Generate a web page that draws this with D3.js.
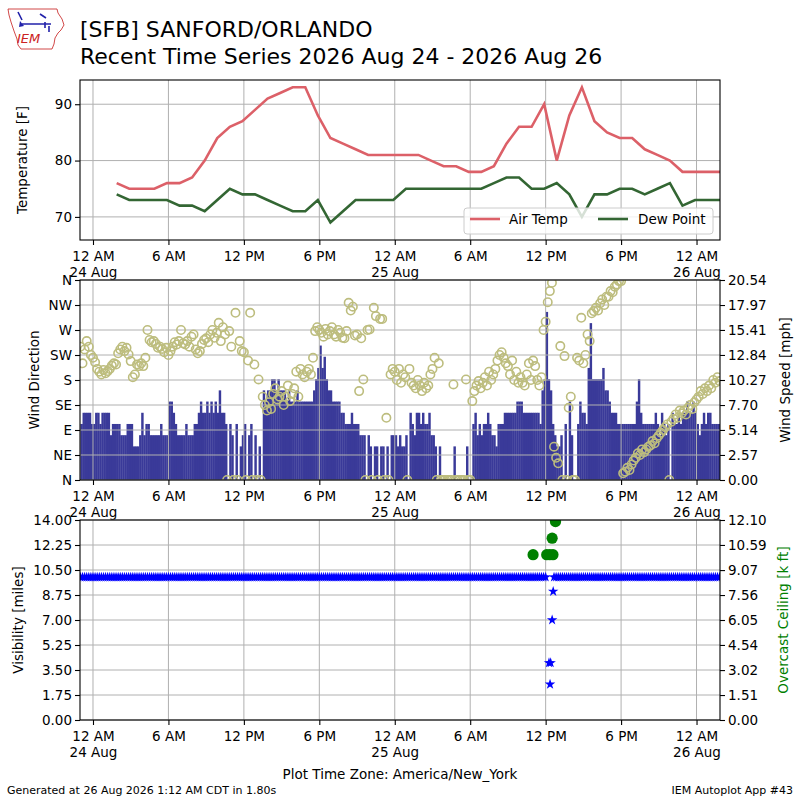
<!DOCTYPE html>
<html>
<head>
<meta charset="utf-8">
<script src="https://cdn.jsdelivr.net/npm/d3@7"></script>
<style>
  body { margin: 0; background: #ffffff; }
  text { font-family: "DejaVu Sans", sans-serif; }
</style>
</head>
<body>
<script>
// ---- data ----

// hourly METAR temperatures (F), first ob 1:53 AM Aug 24, one per hour
var tempStart = "2026-08-24 01:53";
var airTemp = [
  76, 75, 75, 75, 76, 76, 77, 80, 84, 86, 87, 89, 91, 92, 93, 93, 88, 84, 83, 82, 81, 81, 81,
  81, 81, 80, 79, 79, 78, 78, 79, 83, 86, 86, 90, 80, 88, 93, 87, 85, 84, 84, 82, 81, 80, 78, 78, 78, 78
];
var dewPoint = [
  74, 73, 73, 73, 73, 72, 72, 71, 73, 75, 74, 74, 73, 72, 71, 71, 73, 69, 71, 73, 73, 73, 73,
  75, 75, 75, 75, 75, 75, 75, 76, 77, 77, 75, 75, 76, 74, 70, 74, 74, 75, 75, 74, 75, 76, 72, 73, 73, 73
];

// 10 minute wind obs, first at 11:00 PM Aug 23 (speed in knots, direction in degrees, calm = 0)
var windStart = "2026-08-23 23:00";
var windSpeedKt = [
  5, 6, 6, 6, 6, 5,     // 23
  5, 6, 6, 5, 6, 6,     // 00 Aug 24
  6, 6, 4, 5, 5, 5,
  5, 4, 4, 4, 5, 5,
  5, 3, 3, 3, 4, 6,
  4, 5, 5, 4, 4, 4,
  4, 4, 5, 4, 4, 4,
  7, 7, 6, 5, 4, 4,     // 06
  4, 4, 5, 4, 4, 4,
  5, 5, 6, 7, 6, 6,
  7, 6, 7, 6, 7, 6,
  8, 6, 6, 5, 0, 5,
  4, 0, 5, 0, 3, 4,
  5, 0, 4, 5, 0, 4,     // 12
  0, 3, 0, 8, 7, 8,
  8, 9, 9, 8, 9, 8,
  8, 8, 7, 8, 7, 7,
  7, 8, 7, 7, 7, 7,
  7, 7, 7, 8, 9, 10,
  12, 10, 11, 9, 8, 8,  // 18
  7, 7, 7, 7, 6, 6,
  5, 5, 5, 6, 5, 5,
  5, 4, 4, 4, 0, 4,
  3, 0, 3, 3, 0, 3,
  3, 0, 3, 0, 4, 4,
  4, 3, 4, 3, 3, 4,     // 00 Aug 25
  0, 6, 5, 4, 6, 6,
  5, 6, 5, 5, 6, 4,
  4, 3, 0, 3, 0, 0,
  0, 0, 0, 0, 3, 0,
  0, 0, 0, 0, 3, 0,
  0, 5, 6, 4, 5, 4,     // 06
  5, 5, 6, 5, 4, 4,
  3, 5, 5, 5, 6, 6,
  6, 6, 6, 6, 7, 7,
  7, 6, 6, 6, 6, 6,
  6, 6, 6, 5, 8, 9,
  15, 9, 8, 5, 4, 3,    // 12
  3, 4, 0, 5, 0, 7,
  4, 0, 0, 5, 7, 6,
  6, 5, 10, 14, 9, 9,
  9, 9, 9, 10, 8, 8,
  7, 6, 6, 6, 5, 5,
  5, 5, 5, 5, 5, 5,     // 18
  5, 7, 9, 6, 5, 5,
  5, 5, 5, 5, 6, 5,
  4, 6, 5, 4, 5, 0,
  6, 5, 5, 6, 5, 6,
  6, 7, 6, 6, 7, 6,
  5, 4, 5, 6, 5, 6,     // 00 Aug 26
  6, 5, 5, 5, 5, 5
];
var windDirDeg = [
  240, 210, 235, 250, 240, 225,   // 23
  220, 212, 200, 195, 190, 198,   // 00 Aug 24
  192, 196, 200, 206, 210, 208,
  228, 235, 240, 232, 238, 226,
  214, 185, 190, 208, 205, 210,
  205, 220, 270, 252, 248, 250,
  245, 238, 240, 236, 230, 238,
  225, 232, 240, 248, 244, 250,   // 06
  270, 246, 244, 250, 240, 258,
  262, 235, 228, 232, 245, 252,
  255, 248, 262, 270, 256, 265,
  283, 250, 275, 262, 0, 268,
  240, 0, 301, 0, 250, 232,
  230, 0, 215, 301, 0, 208,       // 12
  0, 181, 0, 150, 135, 125,
  140, 128, 155, 165, 145, 150,
  160, 135, 150, 170, 142, 155,
  165, 195, 150, 200, 190, 185,
  195, 200, 190, 220, 268, 275,
  270, 265, 258, 272, 262, 268,   // 18
  275, 262, 258, 270, 265, 256,
  255, 268, 319, 305, 312, 260,
  262, 160, 255, 181, 0, 270,
  271, 0, 310, 295, 0, 290,
  290, 0, 112, 0, 190, 200,
  195, 180, 200, 175, 190, 185,   // 00 Aug 25
  0, 200, 175, 170, 165, 180,
  170, 160, 175, 165, 170, 190,
  200, 220, 0, 210, 0, 0,
  0, 0, 0, 0, 172, 0,
  0, 0, 0, 0, 181, 0,
  0, 142, 160, 170, 178, 165,     // 06
  175, 185, 170, 195, 180, 190,
  200, 215, 225, 230, 220, 210,
  205, 190, 215, 180, 195, 175,
  185, 175, 170, 190, 210, 180,
  215, 205, 180, 170, 185, 270,
  285, 320, 340, 355, 60, 40,     // 12
  30, 241, 0, 223, 0, 130,
  150, 0, 0, 220, 215, 292,
  210, 225, 262, 250, 300, 304,
  310, 305, 318, 325, 315, 330,
  330, 340, 338, 348, 352, 358,
  358, 12, 15, 22, 18, 28,        // 18
  35, 40, 48, 45, 55, 50,
  55, 60, 62, 70, 66, 75,
  80, 85, 90, 95, 100, 0,
  105, 110, 118, 112, 125, 120,
  125, 118, 130, 135, 128, 140,
  145, 150, 160, 155, 165, 160,   // 00 Aug 26
  170, 165, 180, 175, 185, 178
];

// 10 minute visibility obs (miles), same times as the wind obs, four hours per row
var visMiles = [
  10, 10, 10, 10, 10, 10,  10, 10, 10, 10, 10, 10,  10, 10, 10, 10, 10, 10,  10, 10, 10, 10, 10, 10,   // 23-02
  10, 10, 10, 10, 10, 10,  10, 10, 10, 10, 10, 10,  10, 10, 10, 10, 10, 10,  10, 10, 10, 10, 10, 10,   // 03-06
  10, 10, 10, 10, 10, 10,  10, 10, 10, 10, 10, 10,  10, 10, 10, 10, 10, 10,  10, 10, 10, 10, 10, 10,   // 07-10
  10, 10, 10, 10, 10, 10,  10, 10, 10, 10, 10, 10,  10, 10, 10, 10, 10, 10,  10, 10, 10, 10, 10, 10,   // 11-14
  10, 10, 10, 10, 10, 10,  10, 10, 10, 10, 10, 10,  10, 10, 10, 10, 10, 10,  10, 10, 10, 10, 10, 10,   // 15-18
  10, 10, 10, 10, 10, 10,  10, 10, 10, 10, 10, 10,  10, 10, 10, 10, 10, 10,  10, 10, 10, 10, 10, 10,   // 19-22
  10, 10, 10, 10, 10, 10,  10, 10, 10, 10, 10, 10,  10, 10, 10, 10, 10, 10,  10, 10, 10, 10, 10, 10,   // 23-02
  10, 10, 10, 10, 10, 10,  10, 10, 10, 10, 10, 10,  10, 10, 10, 10, 10, 10,  10, 10, 10, 10, 10, 10,   // 03-06
  10, 10, 10, 10, 10, 10,  10, 10, 10, 10, 10, 10,  10, 10, 10, 10, 10, 10,  10, 10, 10, 10, 10, 10,   // 07-10
  10, 10, 10, 10, 10, 10,  10, null, null, null, 10, 10,  10, 10, 10, 10, 10, 10,  10, 10, 10, 10, 10, 10,   // 11-14
  10, 10, 10, 10, 10, 10,  10, 10, 10, 10, 10, 10,  10, 10, 10, 10, 10, 10,  10, 10, 10, 10, 10, 10,   // 15-18
  10, 10, 10, 10, 10, 10,  10, 10, 10, 10, 10, 10,  10, 10, 10, 10, 10, 10,  10, 10, 10, 10, 10, 10,   // 19-22
  10, 10, 10, 10, 10, 10,  10, 10, 10, 10, 10, 10,  10, 10, 10, 10, 10, 10                             // 23-01
];
// special obs during the storm around noon Aug 25
var visSpecialTimes = ["2026-08-25 12:16", "2026-08-25 12:24", "2026-08-25 12:21", "2026-08-25 12:31", "2026-08-25 12:36"];
var visSpecialMiles = [4, 4, 2.5, 7, 9];

// overcast ceiling reports (thousand feet)
var ceilingTimes = ["2026-08-25 11:00", "2026-08-25 12:05", "2026-08-25 12:20", "2026-08-25 12:35", "2026-08-25 12:31", "2026-08-25 12:47"];
var ceilingKft = [10.0, 10.0, 10.0, 10.0, 11.0, 12.0];

// axis ticks
var xTickTimes = ["2026-08-24 00:00", "2026-08-24 06:00", "2026-08-24 12:00", "2026-08-24 18:00",
  "2026-08-25 00:00", "2026-08-25 06:00", "2026-08-25 12:00", "2026-08-25 18:00", "2026-08-26 00:00"];
var xTickLabels = ["12 AM\n24 Aug", "6 AM", "12 PM", "6 PM", "12 AM\n25 Aug", "6 AM", "12 PM", "6 PM", "12 AM\n26 Aug"];
var tempTicks = [70, 80, 90];
var dirTicks = [0, 45, 90, 135, 180, 225, 270, 315, 360];
var dirTickLabels = ["N", "NE", "E", "SE", "S", "SW", "W", "NW", "N"];
var speedTicks = [0, 2.57, 5.14, 7.70, 10.27, 12.84, 15.41, 17.97, 20.54];
var visTicks = [0, 1.75, 3.50, 5.25, 7.00, 8.75, 10.50, 12.25, 14.00];
var ceilingTicks = [0, 1.51, 3.02, 4.54, 6.05, 7.56, 9.07, 10.59, 12.10];

// ---- layout ----
var svgWidth = 800;
var svgHeight = 800;
var plotLeft = 80;
var plotRight = 720;
var tempPanel = { top: 80, bottom: 240 };
var windPanel = { top: 280, bottom: 480 };
var visPanel = { top: 520, bottom: 720 };
var gridColor = "#b0b0b0";
var fontSize = 13.5;

var parseTime = d3.timeParse("%Y-%m-%d %H:%M");
var ktToMph = 1.15078;

var svg = d3.select("body")
  .append("svg")
  .attr("width", svgWidth)
  .attr("height", svgHeight);

svg.append("rect").attr("width", svgWidth).attr("height", svgHeight).attr("fill", "#ffffff");

// shared time scale
var x = d3.scaleTime()
  .domain([parseTime("2026-08-23 22:58"), parseTime("2026-08-26 01:52")])
  .range([plotLeft, plotRight]);

var tickDates = xTickTimes.map(parseTime);

// times for the obs arrays
var tempT0 = parseTime(tempStart);
var tempData = airTemp.map(function(v, i) {
  return { t: d3.timeHour.offset(tempT0, i), air: v, dew: dewPoint[i] };
});
var windT0 = parseTime(windStart);
var windData = windSpeedKt.map(function(v, i) {
  return { t: d3.timeMinute.offset(windT0, i * 10), spd: v, dir: windDirDeg[i], vis: visMiles[i] };
});

// clip path per panel
function addClip(id, panel) {
  svg.append("clipPath").attr("id", id)
    .append("rect")
    .attr("x", plotLeft).attr("y", panel.top)
    .attr("width", plotRight - plotLeft).attr("height", panel.bottom - panel.top);
}
addClip("clipTemp", tempPanel);
addClip("clipWind", windPanel);
addClip("clipVis", visPanel);

// vertical grid lines + bottom time axis for a panel
function drawVGrid(panel) {
  svg.append("g").selectAll("line")
    .data(tickDates)
    .enter()
    .append("line")
    .attr("x1", d => x(d)).attr("x2", d => x(d))
    .attr("y1", panel.top).attr("y2", panel.bottom)
    .attr("stroke", gridColor).attr("stroke-width", 1);
}

function drawHGrid(panel, scale, values) {
  svg.append("g").selectAll("line")
    .data(values)
    .enter()
    .append("line")
    .attr("x1", plotLeft).attr("x2", plotRight)
    .attr("y1", d => scale(d)).attr("y2", d => scale(d))
    .attr("stroke", gridColor).attr("stroke-width", 1);
}

function drawTimeAxis(panel) {
  var bottomAxis = d3.axisBottom(x)
    .tickValues(tickDates)
    .tickFormat((d, i) => xTickLabels[i])
    .tickSize(5)
    .tickPadding(6);
  var g = svg.append("g")
    .attr("transform", `translate(0, ${panel.bottom})`)
    .call(bottomAxis);
  styleAxis(g);
  // split two line labels
  g.selectAll(".tick text").each(function(d, i) {
    var lines = xTickLabels[i].split("\n");
    var t = d3.select(this).attr("dy", null).text(null);
    lines.forEach(function(line, j) {
      t.append("tspan").attr("x", 0).attr("dy", j === 0 ? "0.71em" : "1.18em").text(line);
    });
  });
}

function styleAxis(g) {
  g.select(".domain").remove();
  g.attr("font-size", fontSize).attr("font-family", "DejaVu Sans, sans-serif");
  g.selectAll(".tick line").attr("stroke", "#000").attr("stroke-width", 1.1);
  g.selectAll(".tick text").attr("fill", "#000");
}

function drawFrame(panel) {
  svg.append("rect")
    .attr("x", plotLeft).attr("y", panel.top)
    .attr("width", plotRight - plotLeft).attr("height", panel.bottom - panel.top)
    .attr("fill", "none").attr("stroke", "#000").attr("stroke-width", 1.1);
}

function yLabel(text, xPos, yPos, color) {
  svg.append("text")
    .attr("transform", `translate(${xPos}, ${yPos}) rotate(-90)`)
    .attr("text-anchor", "middle")
    .attr("font-size", fontSize)
    .attr("fill", color || "#000")
    .text(text);
}

// ---- temperature panel ----
var tempY = d3.scaleLinear()
  .domain([65.9, 94.3])
  .range([tempPanel.bottom, tempPanel.top]);

drawVGrid(tempPanel);
drawHGrid(tempPanel, tempY, tempTicks);

var tempG = svg.append("g").attr("clip-path", "url(#clipTemp)");
var airLine = d3.line().x(d => x(d.t)).y(d => tempY(d.air));
var dewLine = d3.line().x(d => x(d.t)).y(d => tempY(d.dew));
tempG.append("path").datum(tempData)
  .attr("d", airLine).attr("fill", "none")
  .attr("stroke", "#dc6068").attr("stroke-width", 2.6);
tempG.append("path").datum(tempData)
  .attr("d", dewLine).attr("fill", "none")
  .attr("stroke", "#336633").attr("stroke-width", 2.6);

// legend
var legend = svg.append("g");
legend.append("rect")
  .attr("x", 464).attr("y", 208).attr("width", 249).attr("height", 26).attr("rx", 3)
  .attr("fill", "#ffffff").attr("fill-opacity", 0.8)
  .attr("stroke", "#cccccc").attr("stroke-width", 1);
legend.append("line").attr("x1", 470).attr("x2", 500).attr("y1", 219).attr("y2", 219)
  .attr("stroke", "#dc6068").attr("stroke-width", 2.6);
legend.append("text").attr("x", 509).attr("y", 224).attr("font-size", fontSize).text("Air Temp");
legend.append("line").attr("x1", 598).attr("x2", 628).attr("y1", 219).attr("y2", 219)
  .attr("stroke", "#336633").attr("stroke-width", 2.6);
legend.append("text").attr("x", 638).attr("y", 224).attr("font-size", fontSize).text("Dew Point");

drawFrame(tempPanel);
var tempAxis = svg.append("g")
  .attr("transform", `translate(${plotLeft}, 0)`)
  .call(d3.axisLeft(tempY).tickValues(tempTicks).tickSize(5).tickPadding(3));
styleAxis(tempAxis);
drawTimeAxis(tempPanel);
yLabel("Temperature [F]", 27, (tempPanel.top + tempPanel.bottom) / 2);

// ---- wind panel ----
var dirY = d3.scaleLinear().domain([0, 360]).range([windPanel.bottom, windPanel.top]);
var speedY = d3.scaleLinear().domain([0, 20.54]).range([windPanel.bottom, windPanel.top]);

var windG = svg.append("g").attr("clip-path", "url(#clipWind)");
// speed bars (drawn under the grid, like matplotlib)
windG.selectAll(".bar")
  .data(windData.filter(d => d.spd > 0))
  .enter()
  .append("rect")
  .attr("class", "bar")
  .attr("x", d => x(d.t))
  .attr("width", d => x(d3.timeMinute.offset(d.t, 10)) - x(d.t) + 0.35)
  .attr("y", d => speedY(d.spd * ktToMph))
  .attr("height", d => windPanel.bottom - speedY(d.spd * ktToMph))
  .attr("fill", "#3a3a99");

drawVGrid(windPanel);
drawHGrid(windPanel, dirY, dirTicks);

// direction circles
var dirG = svg.append("g").attr("clip-path", "url(#clipWind)");
dirG.selectAll("circle")
  .data(windData)
  .enter()
  .append("circle")
  .attr("cx", d => x(d.t))
  .attr("cy", d => dirY(d.dir))
  .attr("r", 4.2)
  .attr("fill", "none")
  .attr("stroke", "#bdbd7e")
  .attr("stroke-width", 1.6);

drawFrame(windPanel);
var dirAxis = svg.append("g")
  .attr("transform", `translate(${plotLeft}, 0)`)
  .call(d3.axisLeft(dirY).tickValues(dirTicks).tickFormat((d, i) => dirTickLabels[i]).tickSize(5).tickPadding(3));
styleAxis(dirAxis);
var speedAxis = svg.append("g")
  .attr("transform", `translate(${plotRight}, 0)`)
  .call(d3.axisRight(speedY).tickValues(speedTicks).tickFormat(d => d.toFixed(2)).tickSize(5).tickPadding(3));
styleAxis(speedAxis);
drawTimeAxis(windPanel);
yLabel("Wind Direction", 39, (windPanel.top + windPanel.bottom) / 2);
yLabel("Wind Speed [mph]", 790, (windPanel.top + windPanel.bottom) / 2);

// ---- visibility / ceiling panel ----
var visY = d3.scaleLinear().domain([0, 14]).range([visPanel.bottom, visPanel.top]);
var ceilY = d3.scaleLinear().domain([0, 12.10]).range([visPanel.bottom, visPanel.top]);

drawVGrid(visPanel);
drawHGrid(visPanel, visY, visTicks);

var visG = svg.append("g").attr("clip-path", "url(#clipVis)");
var star = d3.symbol().type(d3.symbolStar).size(34);
var visPoints = windData.filter(d => d.vis !== null).map(d => ({ t: d.t, v: d.vis }))
  .concat(visSpecialTimes.map((s, i) => ({ t: parseTime(s), v: visSpecialMiles[i] })));
visG.selectAll(".star")
  .data(visPoints)
  .enter()
  .append("path")
  .attr("class", "star")
  .attr("d", star)
  .attr("transform", d => `translate(${x(d.t)}, ${visY(d.v)})`)
  .attr("fill", "#0000ff");

visG.selectAll(".ceil")
  .data(ceilingTimes.map((s, i) => ({ t: parseTime(s), v: ceilingKft[i] })))
  .enter()
  .append("circle")
  .attr("class", "ceil")
  .attr("cx", d => x(d.t))
  .attr("cy", d => ceilY(d.v))
  .attr("r", 5.6)
  .attr("fill", "#008000");

drawFrame(visPanel);
var visAxis = svg.append("g")
  .attr("transform", `translate(${plotLeft}, 0)`)
  .call(d3.axisLeft(visY).tickValues(visTicks).tickFormat(d => d.toFixed(2)).tickSize(5).tickPadding(3));
styleAxis(visAxis);
var ceilAxis = svg.append("g")
  .attr("transform", `translate(${plotRight}, 0)`)
  .call(d3.axisRight(ceilY).tickValues(ceilingTicks).tickFormat(d => d.toFixed(2)).tickSize(5).tickPadding(3));
styleAxis(ceilAxis);
drawTimeAxis(visPanel);
yLabel("Visibility [miles]", 23, (visPanel.top + visPanel.bottom) / 2);
yLabel("Overcast Ceiling [k ft]", 788, (visPanel.top + visPanel.bottom) / 2, "#008000");

// ---- titles and footer ----
svg.append("text").attr("x", 80).attr("y", 37).attr("font-size", 22).text("[SFB] SANFORD/ORLANDO");
svg.append("text").attr("x", 80).attr("y", 64).attr("font-size", 22).text("Recent Time Series 2026 Aug 24 - 2026 Aug 26");
svg.append("text").attr("x", 400).attr("y", 779).attr("text-anchor", "middle").attr("font-size", fontSize)
  .text("Plot Time Zone: America/New_York");
svg.append("text").attr("x", 7).attr("y", 794).attr("font-size", 11)
  .text("Generated at 26 Aug 2026 1:12 AM CDT in 1.80s");
svg.append("text").attr("x", 793).attr("y", 794).attr("text-anchor", "end").attr("font-size", 11)
  .text("IEM Autoplot App #43");

// IEM logo (rough outline of Iowa with the vane mark)
var logo = svg.append("g");
logo.append("path")
  .attr("d", "M8,9 L57,9 L58,13 L62,19 L64,25 L61,30 L58,33 L55,38 L54,44 L52,49 L21,49 L18,45 L17,39 L14,31 L11,22 L9,15 Z")
  .attr("fill", "none").attr("stroke", "#cc3333").attr("stroke-width", 0.9);
logo.append("path")
  .attr("d", "M22,24 L51,24 M45,22 L45,28 M49,26 L49,32 M18,12 L22,20 M40,14 L46,18")
  .attr("fill", "none").attr("stroke", "#2222aa").attr("stroke-width", 1.6);
logo.append("path").attr("d", "M20,21 L24,26 L19,27 Z").attr("fill", "#2222aa");
logo.append("text").attr("x", 17).attr("y", 43)
  .attr("font-family", "DejaVu Serif, serif").attr("font-style", "italic")
  .attr("font-size", 13).attr("fill", "#cc2222").text("IEM");
</script>
</body>
</html>
